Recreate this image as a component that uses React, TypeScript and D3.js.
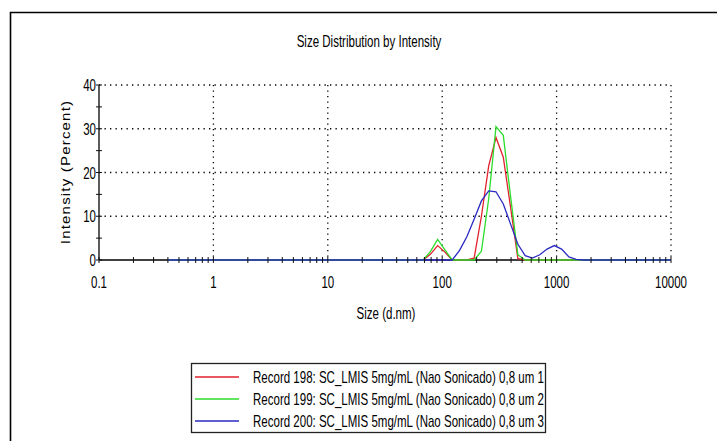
import * as d3 from 'd3';

// size classes (d.nm) of the instrument
const sizes = [
  0.4, 0.4632, 0.5365, 0.6213, 0.7195, 0.8332, 0.9649, 1.117, 1.294, 1.499,
  1.736, 2.01, 2.328, 2.696, 3.122, 3.615, 4.187, 4.849, 5.615, 6.503,
  7.531, 8.721, 10.1, 11.7, 13.54, 15.69, 18.17, 21.04, 24.36, 28.21,
  32.67, 37.84, 43.82, 50.75, 58.77, 68.06, 78.82, 91.28, 105.7, 122.4,
  141.8, 164.2, 190.1, 220.2, 255.0, 295.3, 342.0, 396.1, 458.7, 531.2,
  615.1, 712.4, 825.0, 955.4, 1106, 1281, 1484, 1718, 1990, 2305,
  2669, 3091, 3580, 4145, 4801, 5560, 6439, 7456, 8635, 10000,
];

const record198 = [
  0, 0, 0, 0, 0, 0, 0, 0, 0, 0,
  0, 0, 0, 0, 0, 0, 0, 0, 0, 0,
  0, 0, 0, 0, 0, 0, 0, 0, 0, 0,
  0, 0, 0, 0, 0, 0, 1.3, 3.3, 1.8, 0,
  0, 0, 0.4, 10, 21.5, 28, 23.5, 12, 0.3, 0,
  0, 0, 0, 0, 0, 0, 0, 0, 0, 0,
  0, 0, 0, 0, 0, 0, 0, 0, 0, 0,
];

const record199 = [
  0, 0, 0, 0, 0, 0, 0, 0, 0, 0,
  0, 0, 0, 0, 0, 0, 0, 0, 0, 0,
  0, 0, 0, 0, 0, 0, 0, 0, 0, 0,
  0, 0, 0, 0, 0, 0, 1.9, 4.7, 2.3, 0,
  0, 0, 0, 2, 14, 30.5, 28.5, 14.5, 1.2, 0,
  0, 0, 0, 0, 0, 0, 0, 0, 0, 0,
  0, 0, 0, 0, 0, 0, 0, 0, 0, 0,
];

const record200 = [
  0, 0, 0, 0, 0, 0, 0, 0, 0, 0,
  0, 0, 0, 0, 0, 0, 0, 0, 0, 0,
  0, 0, 0, 0, 0, 0, 0, 0, 0, 0,
  0, 0, 0, 0, 0, 0, 0, 0, 0, 0,
  2.2, 5.3, 9.3, 13.5, 15.8, 15.6, 12.8, 8.2, 3.6, 1.0,
  0.45, 1.2, 2.5, 3.3, 2.5, 0.7, 0.15, 0, 0, 0,
  0, 0, 0, 0, 0, 0, 0, 0, 0, 0,
];

const seriesNames = [
  'Record 198: SC_LMIS 5mg/mL (Nao Sonicado) 0,8 um 1',
  'Record 199: SC_LMIS 5mg/mL (Nao Sonicado) 0,8 um 2',
  'Record 200: SC_LMIS 5mg/mL (Nao Sonicado) 0,8 um 3',
];
const seriesColors = ['#e2202c', '#2cdc2c', '#2a2ac4'];
const seriesValues = [record198, record199, record200];

const xTickLabels = [0.1, 1, 10, 100, 1000, 10000];
const yTickLabels = [0, 10, 20, 30, 40];

const FONT = '"Liberation Sans", Arial, sans-serif';
const SQ = 0.72;

// horizontally squeezed text like the instrument's narrow font
const Squeezed = ({ x, y, size = 16, anchor = 'start', children }) => (
  <text
    transform={`translate(${x},${y}) scale(${SQ},1)`}
    fontFamily={FONT}
    fontSize={size}
    textAnchor={anchor}
    fill="#000"
  >
    {children}
  </text>
);

export default function App() {
  const width = 717;
  const height = 441;
  const left = 99;
  const right = 671;
  const top = 85;
  const bottom = 260;

  const x = d3.scaleLog().domain([0.1, 10000]).range([left, right]);
  const y = d3.scaleLinear().domain([0, 40]).range([bottom, top]);

  const line = d3
    .line<number>()
    .x((_, i) => x(sizes[i]))
    .y(d => y(d));

  // minor ticks 2..9 per decade
  const minorX: number[] = [];
  for (let e = -1; e < 4; e++) {
    for (let m = 1; m <= 9; m++) minorX.push(m * Math.pow(10, e));
  }
  minorX.push(10000);
  const yTicks = d3.range(0, 45, 5);

  return (
    <svg
      width={width}
      height={height}
      style={{ position: 'absolute', left: 0, top: 0, background: '#fff' }}
    >
      <rect x={0} y={0} width={width} height={height} fill="#fff" />
      {/* outer frame */}
      <path d={`M10.5,${height} V12.5 H${width}`} fill="none" stroke="#000" strokeWidth={1.6} />

      <Squeezed x={369} y={46.5} anchor="middle">
        Size Distribution by Intensity
      </Squeezed>

      {/* grid */}
      {yTickLabels.slice(1).map(v => (
        <line
          key={`gy${v}`}
          x1={left}
          x2={right}
          y1={y(v)}
          y2={y(v)}
          stroke="#000"
          strokeWidth={1.3}
          strokeDasharray="1.3,4.2"
        />
      ))}
      {xTickLabels.slice(1).map(v => (
        <line
          key={`gx${v}`}
          x1={x(v)}
          x2={x(v)}
          y1={top}
          y2={bottom}
          stroke="#000"
          strokeWidth={1.3}
          strokeDasharray="1.3,4.2"
        />
      ))}

      {/* axes */}
      <line x1={left} x2={right} y1={bottom} y2={bottom} stroke="#000" strokeWidth={1.5} />
      <line x1={left} x2={left} y1={top} y2={bottom} stroke="#333" strokeWidth={1.6} />

      {seriesValues.map((vals, i) => (
        <path
          key={seriesNames[i]}
          d={line(vals) ?? ''}
          fill="none"
          stroke={seriesColors[i]}
          strokeWidth={1.3}
        />
      ))}

      {minorX.map(v => (
        <line
          key={`tx${v}`}
          x1={x(v)}
          x2={x(v)}
          y1={bottom - 3}
          y2={bottom + 3}
          stroke="#111"
          strokeWidth={1}
        />
      ))}
      {yTicks.map(v => (
        <line
          key={`ty${v}`}
          x1={left - 3}
          x2={left + 3}
          y1={y(v)}
          y2={y(v)}
          stroke="#111"
          strokeWidth={1}
        />
      ))}

      {yTickLabels.map(v => (
        <Squeezed key={`ly${v}`} x={96} y={y(v) + 6} anchor="end">
          {v}
        </Squeezed>
      ))}
      {xTickLabels.map(v => (
        <Squeezed key={`lx${v}`} x={x(v)} y={288} anchor="middle">
          {v}
        </Squeezed>
      ))}

      <Squeezed x={386} y={319} anchor="middle">
        Size (d.nm)
      </Squeezed>

      <text
        transform={`translate(70,172) rotate(-90) scale(1,0.85)`}
        fontFamily={FONT}
        fontSize={15}
        letterSpacing={1.2}
        textAnchor="middle"
        fill="#000"
      >
        Intensity (Percent)
      </text>

      {/* legend */}
      <rect x={191.5} y={363.5} width={354} height={69} fill="#fff" stroke="#222" strokeWidth={1.3} />
      {seriesNames.map((name, i) => (
        <g key={`lg${i}`}>
          <line
            x1={195}
            x2={239}
            y1={377 + i * 22}
            y2={377 + i * 22}
            stroke={seriesColors[i]}
            strokeWidth={1.3}
          />
          <Squeezed x={253} y={382.5 + i * 22}>
            {name}
          </Squeezed>
        </g>
      ))}
    </svg>
  );
}
